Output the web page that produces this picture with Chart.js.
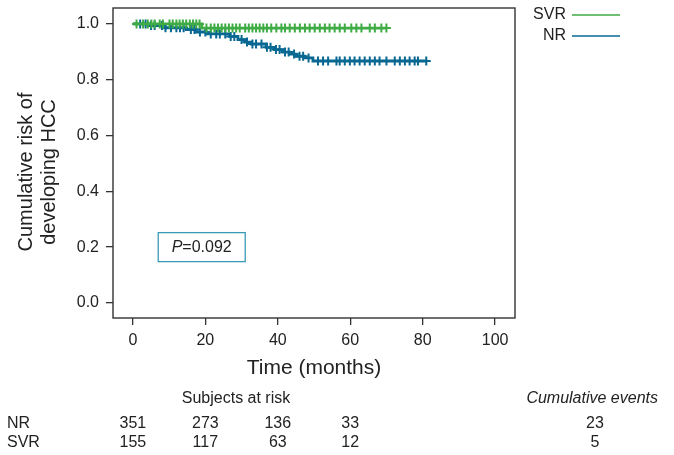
<!DOCTYPE html>
<html>
<head>
<meta charset="utf-8">
<script src="https://cdn.jsdelivr.net/npm/chart.js@4"></script>
<style>
  html, body { margin: 0; padding: 0; background: #fff; }
</style>
</head>
<body>
<canvas id="chart" width="674" height="455"></canvas>
<script>
// axis ticks
const xTicks = [0, 20, 40, 60, 80, 100];
const yTicks = [0, 0.2, 0.4, 0.6, 0.8, 1.0];

// step curves (time in months, cumulative value)
const nrTimes = [0, 4.6, 8.3, 14.7, 17.5, 20.3, 26.7, 29.0, 30.9, 32.7, 36.8, 39.1, 41.4, 43.3, 45.1, 47.4, 49.7, 81.0];
const nrValues = [1.0, 0.994, 0.986, 0.980, 0.971, 0.964, 0.955, 0.944, 0.935, 0.928, 0.916, 0.908, 0.899, 0.892, 0.884, 0.878, 0.867, 0.867];
const svrTimes = [0, 19.0, 70.0];
const svrValues = [1.0, 0.985, 0.985];

// censored observations (+ marks)
const nrCensored = [2, 3.5, 5, 6, 8, 9, 10.5, 12, 13, 14, 16, 17, 18.5, 20, 21.5, 23, 24, 25.5, 27, 28, 30, 31.5, 33, 34, 35.5, 37, 38, 39.5, 40.5, 42, 43, 44.5, 46, 47, 48.5,
  51.1, 52.5, 53.9, 56.2, 57.1, 58.5, 59.9, 61.2, 62.6, 64.0, 65.4, 66.8, 68.1, 70, 72.3, 73.7, 75.1, 76.4, 77.8, 78.7, 81];
const svrCensored = [1, 2.8, 4.1, 5.1, 6, 7.4, 8.3, 10.1, 11, 12, 12.9, 13.8, 14.7, 15.7, 16.6, 17.5, 18.4,
  20.3, 21.5, 22.5, 23.5, 24.5, 25.5, 26.5, 27.5, 28.5, 29.5, 31, 32, 33, 34, 35, 36, 37, 38.2, 39.6, 41, 42, 43.3, 44.7,
  46.1, 47.5, 48.8, 50.2, 51.6, 53, 54.3, 55.7, 57.1, 58.5, 60.3, 61.7, 63.1, 65.4, 66.8, 68.6, 70];

// risk table
const riskTimes = [0, 20, 40, 60];
const nrAtRisk = [351, 273, 136, 33];
const svrAtRisk = [155, 117, 63, 12];
const cumEvents = [23, 5];
const pText = '0.092';

const green = '#3fab45';
const blue = '#086892';
const textColor = '#222';
const frameColor = '#333';
const font = "'Liberation Sans', Arial, Helvetica, sans-serif";

function toPoints(times, values) {
  return times.map((t, i) => ({ x: t, y: values[i] }));
}

// value of a step curve at time t
function stepAt(times, values, t) {
  let v = values[0];
  for (let i = 0; i < times.length; i++) {
    if (times[i] <= t) v = values[i];
  }
  return v;
}

function censorPoints(list, times, values) {
  return list.map(t => ({ x: t, y: stepAt(times, values, t) }));
}

const extras = {
  id: 'extras',
  afterDraw(chart) {
    const { ctx, chartArea: a, scales: { x, y } } = chart;
    ctx.save();

    // frame
    ctx.strokeStyle = frameColor;
    ctx.lineWidth = 1.4;
    ctx.strokeRect(a.left, a.top, a.right - a.left, a.bottom - a.top);

    ctx.fillStyle = textColor;
    ctx.textBaseline = 'middle';

    // y title
    ctx.save();
    ctx.translate(0, 172);
    ctx.rotate(-Math.PI / 2);
    ctx.textAlign = 'center';
    ctx.font = '20px ' + font;
    ctx.fillText('Cumulative risk of', 0, 26);
    ctx.fillText('developing HCC', 0, 49);
    ctx.restore();

    // x title
    ctx.textAlign = 'center';
    ctx.font = '21px ' + font;
    ctx.fillText('Time (months)', (a.left + a.right) / 2, 368);

    // legend
    ctx.font = '16px ' + font;
    ctx.textAlign = 'right';
    ctx.lineWidth = 1.5;
    [['SVR', green, 15], ['NR', blue, 36]].forEach(([label, col, ly]) => {
      ctx.fillStyle = textColor;
      ctx.fillText(label, 566, ly);
      ctx.strokeStyle = col;
      ctx.beginPath();
      ctx.moveTo(572, ly);
      ctx.lineTo(620, ly);
      ctx.stroke();
    });

    // p-value box
    const px = x.getPixelForValue(19);
    const py = y.getPixelForValue(0.2);
    ctx.strokeStyle = '#3a9ab5';
    ctx.lineWidth = 1.3;
    ctx.strokeRect(px - 43.5, py - 14.5, 87, 29);
    ctx.fillStyle = textColor;
    ctx.font = 'italic 16px ' + font;
    const pw = ctx.measureText('P').width;
    ctx.font = '16px ' + font;
    const rw = ctx.measureText('=' + pText).width;
    let tx = px - (pw + rw) / 2;
    ctx.textAlign = 'left';
    ctx.font = 'italic 16px ' + font;
    ctx.fillText('P', tx, py);
    ctx.font = '16px ' + font;
    ctx.fillText('=' + pText, tx + pw, py);

    // risk table
    ctx.font = '16px ' + font;
    ctx.textAlign = 'center';
    ctx.fillText('Subjects at risk', 236, 399);
    ctx.textAlign = 'left';
    ctx.fillText('NR', 7, 424);
    ctx.fillText('SVR', 7, 443);
    ctx.textAlign = 'center';
    riskTimes.forEach((t, i) => {
      const cx = x.getPixelForValue(t);
      ctx.fillText(String(nrAtRisk[i]), cx, 424);
      ctx.fillText(String(svrAtRisk[i]), cx, 443);
    });
    ctx.fillText(String(cumEvents[0]), 595, 424);
    ctx.fillText(String(cumEvents[1]), 595, 443);
    ctx.textAlign = 'right';
    ctx.font = 'italic 16px ' + font;
    ctx.fillText('Cumulative events', 658, 399);

    ctx.restore();
  }
};

const chart = new Chart(document.getElementById('chart'), {
  type: 'line',
  data: {
    datasets: [
      {
        label: 'SVR',
        data: toPoints(svrTimes, svrValues),
        borderColor: green,
        borderWidth: 2.8,
        stepped: true,
        pointRadius: 0,
        fill: false
      },
      {
        label: 'SVR censored',
        data: censorPoints(svrCensored, svrTimes, svrValues),
        showLine: false,
        pointStyle: 'cross',
        pointRadius: 4.5,
        pointBorderWidth: 2,
        pointBorderColor: green,
        pointBackgroundColor: green
      },
      {
        label: 'NR',
        data: toPoints(nrTimes, nrValues),
        borderColor: blue,
        borderWidth: 2.8,
        stepped: true,
        pointRadius: 0,
        fill: false
      },
      {
        label: 'NR censored',
        data: censorPoints(nrCensored, nrTimes, nrValues),
        showLine: false,
        pointStyle: 'cross',
        pointRadius: 4.5,
        pointBorderWidth: 2,
        pointBorderColor: blue,
        pointBackgroundColor: blue
      }
    ]
  },
  options: {
    responsive: false,
    animation: false,
    layout: { padding: { left: 0, top: 8, right: 159, bottom: 0 } },
    plugins: {
      legend: { display: false },
      tooltip: { enabled: false }
    },
    scales: {
      x: {
        type: 'linear',
        min: -5.5,
        max: 105.5,
        afterBuildTicks: s => { s.ticks = xTicks.map(v => ({ value: v })); },
        afterFit: s => { s.height = 137; },
        ticks: { font: { size: 16, family: font }, color: textColor, padding: 6, maxRotation: 0 },
        grid: { drawOnChartArea: false, drawTicks: true, tickLength: 7, color: frameColor, lineWidth: 1.3 },
        border: { display: false }
      },
      y: {
        min: -0.054,
        max: 1.057,
        afterBuildTicks: s => { s.ticks = yTicks.map(v => ({ value: v })); },
        afterFit: s => { s.width = 113; s.paddingTop = 0; s.paddingBottom = 0; },
        ticks: { font: { size: 16, family: font }, color: textColor, padding: 7, callback: v => v.toFixed(1) },
        grid: { drawOnChartArea: false, drawTicks: true, tickLength: 7, color: frameColor, lineWidth: 1.3 },
        border: { display: false }
      }
    }
  },
  plugins: [extras]
});
</script>
</body>
</html>
